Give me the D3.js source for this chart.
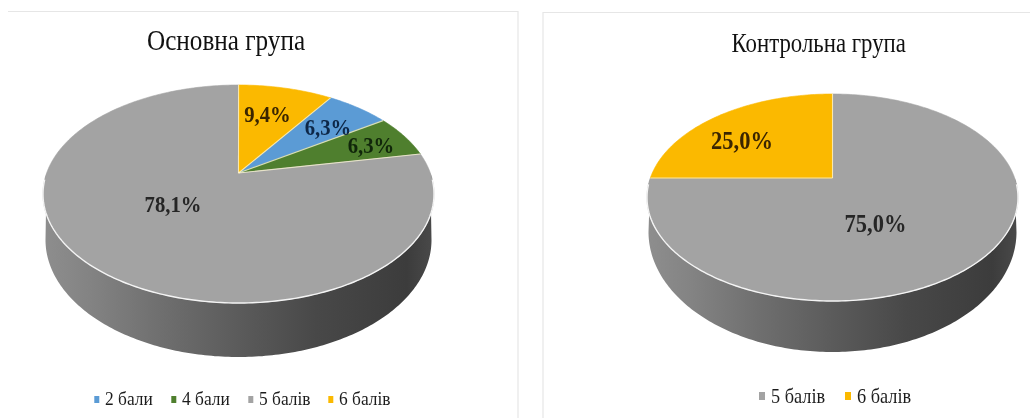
<!DOCTYPE html>
<html><head><meta charset="utf-8">
<script src="https://cdn.jsdelivr.net/npm/d3@7"></script>
<style>html,body{margin:0;background:#fff}svg{display:block;filter:blur(.6px)}text{font-family:"Liberation Serif",serif}</style>
</head><body><div id="c"></div>
<script>
const categoriesMain = ["2 бали", "4 бали", "5 балів", "6 балів"];
const valuesMain = [6.3, 6.3, 78.1, 9.4];
const labelsMain = ["6,3%", "6,3%", "78,1%", "9,4%"];
const colorsMain = ["#5b9bd5", "#4f7f2e", "#a3a3a3", "#fbb900"];
const categoriesCtrl = ["5 балів", "6 балів"];
const valuesCtrl = [75.0, 25.0];
const labelsCtrl = ["75,0%", "25,0%"];
const colorsCtrl = ["#a3a3a3", "#fbb900"];

const W = 1030, H = 418;
const TITLE_STRETCH = 1.18, TEXT_STRETCH = 1.1; // the lettering is taller than it is wide
const svg = d3.select("#c").append("svg").attr("width", W).attr("height", H);
const defs = svg.append("defs");

const g0 = defs.append("linearGradient").attr("id", "wall").attr("x1", 0).attr("x2", 1).attr("y1", 0).attr("y2", 0);
[[0, "#8e8e8e"], [.12, "#838383"], [.3, "#6f6f6f"], [.5, "#5b5b5b"], [.7, "#484848"], [.93, "#3c3c3c"], [1, "#4a4a4a"]]
  .forEach(([o, c]) => g0.append("stop").attr("offset", o).attr("stop-color", c));

function drawPie(o) {
  const g = svg.append("g");
  // perspective projection of the unit disc: apex is the projected centre
  const k = (o.down - o.up) / (o.down + o.up);
  const b = o.up * (1 + k);
  const a = o.rx * Math.sqrt(1 - k * k);
  const proj = t => {
    const u = Math.sin(t), v = -Math.cos(t), w = 1 - k * v;
    return [o.cx + a * u / w, o.apexY + b * v / w];
  };
  const line = d3.line();
  const sample = (t0, t1) => {
    const n = Math.max(2, Math.ceil(Math.abs(t1 - t0) * 60));
    return d3.range(n + 1).map(i => proj(t0 + (t1 - t0) * i / n));
  };

  // side wall
  const bot = t => [o.cx + o.wallRx * Math.sin(t), o.wallCy - o.wallRy * Math.cos(t)];
  const ts = d3.range(0, 181).map(d => (90 + d) * Math.PI / 180);
  g.append("path").attr("d", line(ts.map(proj).concat(ts.slice().reverse().map(bot))) + "Z").attr("fill", "url(#wall)");

  // top face
  const arcs = d3.pie().sort(null).value(d => d)
    .startAngle(o.start).endAngle(o.start + 2 * Math.PI)(o.values);
  g.selectAll("path.s").data(arcs).join("path").attr("class", "s")
    .attr("d", d => line([[o.cx, o.apexY], ...sample(d.startAngle, d.endAngle)]) + "Z")
    .attr("fill", (d, i) => o.colors[i])
    .attr("stroke", (d, i) => o.colors[i]).attr("stroke-width", .6);
  g.selectAll("path.e").data(arcs).join("path").attr("class", "e")
    .attr("d", d => line([[o.cx, o.apexY], proj(d.startAngle)]))
    .attr("stroke", "#fff8d8").attr("stroke-opacity", .75).attr("stroke-width", 1.1).attr("fill", "none");
  g.append("path").attr("d", line(sample(Math.PI * .52, Math.PI * 1.48)))
    .attr("fill", "none").attr("stroke", "#f4f4f4").attr("stroke-width", 1.4);

  const place = (x, y, s) => `translate(${x},${y}) scale(1,${s})`;

  g.selectAll("text.l").data(arcs).join("text").attr("class", "l")
    .attr("transform", (d, i) => place(o.labelPos[i][0], o.labelPos[i][1], TEXT_STRETCH))
    .attr("text-anchor", "middle").attr("font-weight", "bold").attr("font-size", o.labelSize)
    .attr("fill", (d, i) => o.labelColors[i]).text((d, i) => o.labels[i]);

  g.append("text").attr("transform", place(o.titleX, o.titleY, TITLE_STRETCH)).attr("text-anchor", "middle")
    .attr("font-size", o.titleSize).attr("fill", "#111").text(o.title);

  const lg = g.selectAll("g.k").data(o.categories).join("g").attr("class", "k")
    .attr("transform", (d, i) => `translate(${o.legendX[i]},${o.legendY})`);
  lg.append("rect").attr("x", o.swatch[0]).attr("y", o.swatch[1]).attr("width", o.swatch[2]).attr("height", o.swatch[3])
    .attr("fill", (d, i) => o.colors[i]);
  lg.append("text").attr("transform", `scale(1,${TEXT_STRETCH})`).attr("font-size", o.legendSize).attr("fill", "#1c1c1c").text(d => d);
}

const border = "#e6e6e6";
svg.append("path").attr("fill", "none").attr("stroke", border).attr("stroke-width", 1.2)
  .attr("d", d3.line()([[8, 11.5], [518, 11.5], [518, H]]));
svg.append("path").attr("fill", "none").attr("stroke", border).attr("stroke-width", 1.2)
  .attr("d", d3.line()([[543, H], [543, 12.5], [W, 12.5]]));

drawPie({
  values: valuesMain, colors: colorsMain, labels: labelsMain, categories: categoriesMain,
  start: 2 * Math.PI * valuesMain[3] / 100,
  cx: 238.5, apexY: 173, up: 88, down: 130, rx: 195.5,
  wallRx: 193, wallCy: 240, wallRy: 117,
  labelPos: [[328, 135], [371, 153], [173, 212], [267.5, 122]],
  labelColors: ["#0d2747", "#10260a", "#262626", "#3a2500"], labelSize: 20.7,
  title: "Основна група", titleX: 226, titleY: 49.5, titleSize: 25.2,
  legendX: [105, 182, 259, 339], legendY: 405, legendSize: 17.4, swatch: [-10.7, -9, 5, 7]
});
drawPie({
  values: valuesCtrl, colors: colorsCtrl, labels: labelsCtrl, categories: categoriesCtrl,
  start: 0,
  cx: 832.5, apexY: 178, up: 84, down: 123, rx: 185.5,
  wallRx: 184, wallCy: 232, wallRy: 120,
  labelPos: [[875.5, 232], [742, 149]],
  labelColors: ["#262626", "#3a2500"], labelSize: 22.5,
  title: "Контрольна група", titleX: 818.7, titleY: 52, titleSize: 22.8,
  legendX: [771, 857], legendY: 403, legendSize: 18.3, swatch: [-12, -11, 6, 8]
});
</script></body></html>
